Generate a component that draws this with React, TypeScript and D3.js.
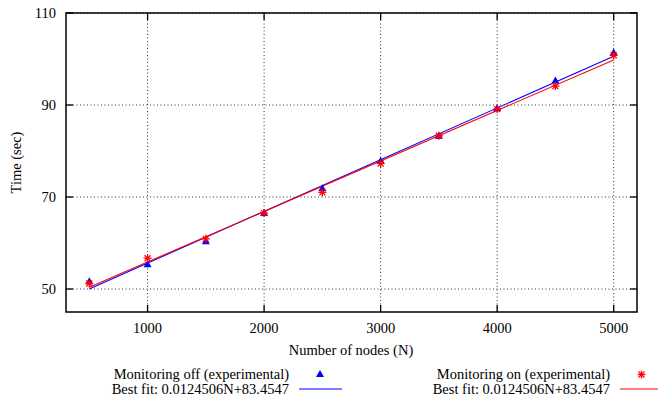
import React from "react";
import * as d3 from "d3";

const nodes = [500, 1000, 1500, 2000, 2500, 3000, 3500, 4000, 4500, 5000];
const timeOff = [51.7, 55.4, 60.4, 66.5, 71.9, 77.9, 83.3, 89.3, 95.3, 101.4];
const timeOn = [51.2, 56.7, 60.9, 66.5, 71.0, 77.3, 83.3, 89.1, 94.1, 100.8];
const xTicks = [1000, 2000, 3000, 4000, 5000];
const yTicks = [50, 70, 90, 110];
const fitLabel = "Best fit: 0.0124506N+83.4547";

const W = 658;
const H = 401;
const M = { left: 66, top: 13, right: 637, bottom: 312 };
const FONT = "'Liberation Serif', 'Times New Roman', serif";
const FS = 14.5;

// least-squares straight line through the measurements
function linearFit(xs: number[], ys: number[]) {
  const mx = d3.mean(xs)!;
  const my = d3.mean(ys)!;
  let sxy = 0;
  let sxx = 0;
  xs.forEach((x, i) => {
    sxy += (x - mx) * (ys[i] - my);
    sxx += (x - mx) * (x - mx);
  });
  const slope = sxy / sxx;
  return (x: number) => my + slope * (x - mx);
}

function Triangle({ cx, cy, color }: { cx: number; cy: number; color: string }) {
  const r = 4;
  return (
    <path
      d={`M${cx},${cy - r} L${cx + r},${cy + r * 0.75} L${cx - r},${cy + r * 0.75}Z`}
      fill={color}
    />
  );
}

function Star({ cx, cy, color }: { cx: number; cy: number; color: string }) {
  const r = 4;
  const d = r * 0.75;
  return (
    <g stroke={color} strokeWidth={1.3}>
      <line x1={cx - r} y1={cy} x2={cx + r} y2={cy} />
      <line x1={cx} y1={cy - r} x2={cx} y2={cy + r} />
      <line x1={cx - d} y1={cy - d} x2={cx + d} y2={cy + d} />
      <line x1={cx - d} y1={cy + d} x2={cx + d} y2={cy - d} />
    </g>
  );
}

export default function App() {
  const x = d3.scaleLinear().domain([300, 5200]).range([M.left, M.right]);
  const y = d3.scaleLinear().domain([45, 110]).range([M.bottom, M.top]);

  const fitOff = linearFit(nodes, timeOff);
  const fitOn = linearFit(nodes, timeOn);
  const xEnds = [nodes[0], nodes[nodes.length - 1]];
  const line = d3.line<number>().x((d) => x(d));
  const offPath = line.y((d) => y(fitOff(d)))(xEnds) ?? "";
  const onPath = line.y((d) => y(fitOn(d)))(xEnds) ?? "";

  const tickLen = 7;

  return (
    <svg
      width={W}
      height={H}
      style={{ position: "absolute", left: 0, top: 0, background: "#fff", fontFamily: FONT }}
    >
      {/* grid */}
      <g stroke="#333" strokeWidth={1} strokeDasharray="1,2.5">
        {xTicks.map((t) => (
          <line key={"gx" + t} x1={x(t)} x2={x(t)} y1={M.top} y2={M.bottom} />
        ))}
        {yTicks.map((t) => (
          <line key={"gy" + t} x1={M.left} x2={M.right} y1={y(t)} y2={y(t)} />
        ))}
      </g>

      {/* ticks */}
      <g stroke="#000" strokeWidth={1.3}>
        {xTicks.map((t) => (
          <g key={"tx" + t}>
            <line x1={x(t)} x2={x(t)} y1={M.bottom} y2={M.bottom - tickLen} />
            <line x1={x(t)} x2={x(t)} y1={M.top} y2={M.top + tickLen} />
          </g>
        ))}
        {yTicks.map((t) => (
          <g key={"ty" + t}>
            <line x1={M.left} x2={M.left + tickLen} y1={y(t)} y2={y(t)} />
            <line x1={M.right} x2={M.right - tickLen} y1={y(t)} y2={y(t)} />
          </g>
        ))}
      </g>

      {/* fitted lines */}
      <path d={offPath} stroke="#0000ff" strokeWidth={1.1} fill="none" />
      <path d={onPath} stroke="#ff0000" strokeWidth={1.1} fill="none" />

      {/* measurements */}
      {nodes.map((n, i) => (
        <Triangle key={"o" + n} cx={x(n)} cy={y(timeOff[i])} color="#0000ff" />
      ))}
      {nodes.map((n, i) => (
        <Star key={"s" + n} cx={x(n)} cy={y(timeOn[i])} color="#ff0000" />
      ))}

      {/* border */}
      <rect
        x={M.left}
        y={M.top}
        width={M.right - M.left}
        height={M.bottom - M.top}
        fill="none"
        stroke="#000"
        strokeWidth={1.5}
      />

      {/* tick labels */}
      <g fontSize={FS} fill="#000">
        {xTicks.map((t) => (
          <text key={"lx" + t} x={x(t)} y={333} textAnchor="middle">
            {t}
          </text>
        ))}
        {yTicks.map((t) => (
          <text key={"ly" + t} x={56} y={y(t) + 5} textAnchor="end">
            {t}
          </text>
        ))}
      </g>

      {/* axis titles */}
      <text x={351} y={355} textAnchor="middle" fontSize={FS}>
        Number of nodes (N)
      </text>
      <text
        transform={`translate(21,${(M.top + M.bottom) / 2}) rotate(-90)`}
        textAnchor="middle"
        fontSize={FS}
      >
        Time (sec)
      </text>

      {/* legend */}
      <g fontSize={FS}>
        <text x={289} y={379} textAnchor="end">
          Monitoring off (experimental)
        </text>
        <Triangle cx={320} cy={374} color="#0000ff" />
        <text x={289} y={393.5} textAnchor="end">
          {fitLabel}
        </text>
        <line x1={299} x2={342} y1={389} y2={389} stroke="#0000ff" strokeWidth={1.1} />

        <text x={610} y={379} textAnchor="end">
          Monitoring on (experimental)
        </text>
        <Star cx={641.5} cy={374.5} color="#ff0000" />
        <text x={610} y={393.5} textAnchor="end">
          {fitLabel}
        </text>
        <line x1={620} x2={663} y1={389} y2={389} stroke="#ff0000" strokeWidth={1.1} />
      </g>
    </svg>
  );
}
